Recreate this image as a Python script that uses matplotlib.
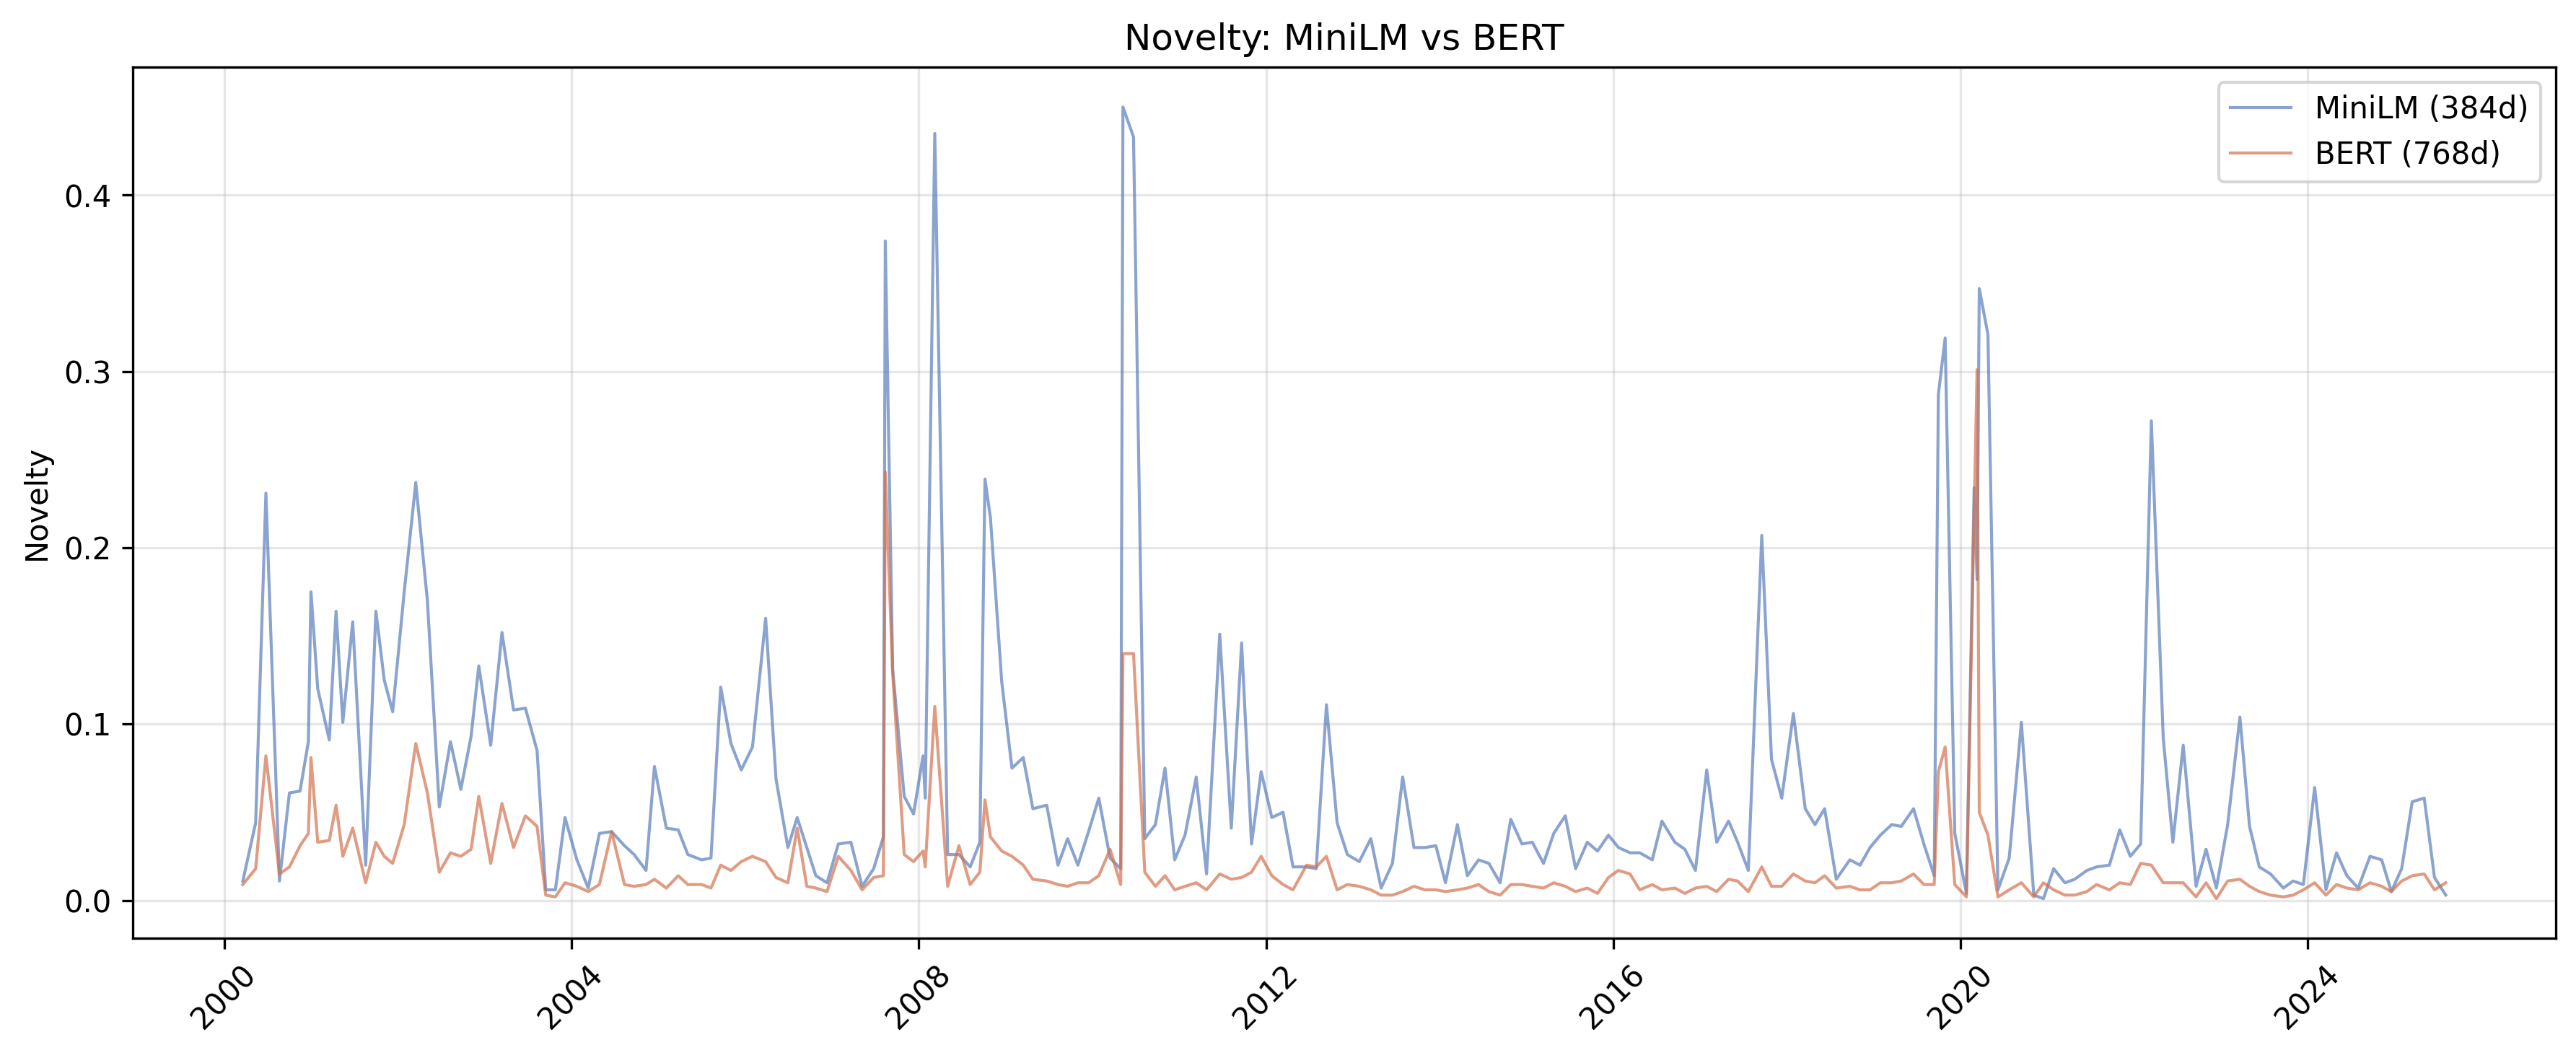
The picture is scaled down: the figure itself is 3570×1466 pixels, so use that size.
import matplotlib
matplotlib.use("Agg")
import matplotlib.pyplot as plt
import numpy as np
import pandas as pd

# decimal year of each period
years = [
    2000.215, 2000.363, 2000.481, 2000.637, 2000.752, 2000.874, 2000.970, 2001.000,
    2001.078, 2001.211, 2001.289, 2001.367, 2001.481, 2001.630, 2001.748, 2001.844,
    2001.941, 2002.074, 2002.207, 2002.341, 2002.478, 2002.607, 2002.726, 2002.844,
    2002.933, 2003.070, 2003.200, 2003.333, 2003.470, 2003.604, 2003.704, 2003.815,
    2003.926, 2004.063, 2004.193, 2004.322, 2004.463,
    2004.611, 2004.722, 2004.859, 2004.956, 2005.093, 2005.230, 2005.341, 2005.500,
    2005.607, 2005.719, 2005.837, 2005.956, 2006.085, 2006.237, 2006.356, 2006.493,
    2006.600, 2006.711, 2006.815, 2006.944, 2007.074, 2007.219, 2007.348, 2007.481,
    2007.593, 2007.615, 2007.700, 2007.833, 2007.940, 2008.050, 2008.075, 2008.185,
    2008.333, 2008.463, 2008.593, 2008.704, 2008.763, 2008.826, 2008.956, 2009.074,
    2009.204, 2009.315, 2009.474, 2009.604, 2009.715, 2009.833,
    2009.956, 2010.074, 2010.204, 2010.326, 2010.352, 2010.474, 2010.604, 2010.726,
    2010.837, 2010.948, 2011.067, 2011.196, 2011.315, 2011.467, 2011.600, 2011.719,
    2011.833, 2011.944, 2012.067, 2012.196, 2012.311, 2012.467, 2012.578, 2012.696,
    2012.819, 2012.937, 2013.074, 2013.207, 2013.326, 2013.456, 2013.574, 2013.704,
    2013.830, 2013.956, 2014.067, 2014.204, 2014.319, 2014.448, 2014.567, 2014.696,
    2014.819, 2014.948, 2015.067, 2015.196,
    2015.314, 2015.447, 2015.566, 2015.700, 2015.818, 2015.944, 2016.059, 2016.193,
    2016.304, 2016.449, 2016.560, 2016.709, 2016.824, 2016.946, 2017.076, 2017.191,
    2017.328, 2017.432, 2017.555, 2017.710, 2017.822, 2017.940, 2018.074, 2018.211,
    2018.323, 2018.434, 2018.568, 2018.724, 2018.842, 2018.957, 2019.076, 2019.206,
    2019.317, 2019.458, 2019.577, 2019.696, 2019.744, 2019.822, 2019.933, 2020.067,
    2020.156, 2020.190, 2020.215, 2020.315, 2020.430, 2020.560, 2020.700,
    2020.843, 2020.954, 2021.072, 2021.202, 2021.314, 2021.455, 2021.566, 2021.714,
    2021.833, 2021.955, 2022.074, 2022.197, 2022.334, 2022.445, 2022.564, 2022.712,
    2022.827, 2022.946, 2023.076, 2023.217, 2023.328, 2023.440, 2023.570, 2023.718,
    2023.829, 2023.948, 2024.078, 2024.208, 2024.330, 2024.449, 2024.579, 2024.716,
    2024.850, 2024.961, 2025.080, 2025.202, 2025.340, 2025.458, 2025.588,
]

minilm = [
    0.011, 0.044, 0.231, 0.011, 0.061, 0.062, 0.090, 0.175,
    0.120, 0.091, 0.164, 0.101, 0.158, 0.020, 0.164, 0.125,
    0.107, 0.175, 0.237, 0.170, 0.053, 0.090, 0.063, 0.093,
    0.133, 0.088, 0.152, 0.108, 0.109, 0.085, 0.006, 0.006,
    0.047, 0.023, 0.007, 0.038, 0.039,
    0.031, 0.026, 0.017, 0.076, 0.041, 0.040, 0.026, 0.023,
    0.024, 0.121, 0.089, 0.074, 0.087, 0.160, 0.069, 0.030,
    0.047, 0.030, 0.014, 0.010, 0.032, 0.033, 0.008, 0.018,
    0.036, 0.374, 0.131, 0.059, 0.049, 0.082, 0.058, 0.435,
    0.026, 0.026, 0.019, 0.033, 0.239, 0.217, 0.124, 0.075,
    0.081, 0.052, 0.054, 0.020, 0.035, 0.020,
    0.039, 0.058, 0.024, 0.018, 0.450, 0.433, 0.035, 0.043,
    0.075, 0.023, 0.037, 0.070, 0.015, 0.151, 0.041, 0.146,
    0.032, 0.073, 0.047, 0.050, 0.019, 0.019, 0.018, 0.111,
    0.044, 0.026, 0.022, 0.035, 0.007, 0.021, 0.070, 0.030,
    0.030, 0.031, 0.010, 0.043, 0.014, 0.023, 0.021, 0.010,
    0.046, 0.032, 0.033, 0.021,
    0.038, 0.048, 0.018, 0.033, 0.028, 0.037, 0.030, 0.027,
    0.027, 0.023, 0.045, 0.033, 0.029, 0.017, 0.074, 0.033,
    0.045, 0.033, 0.017, 0.207, 0.080, 0.058, 0.106, 0.052,
    0.043, 0.052, 0.012, 0.023, 0.020, 0.030, 0.037, 0.043,
    0.042, 0.052, 0.032, 0.014, 0.287, 0.319, 0.038, 0.004,
    0.234, 0.182, 0.347, 0.321, 0.006, 0.024, 0.101,
    0.003, 0.001, 0.018, 0.010, 0.012, 0.017, 0.019, 0.020,
    0.040, 0.025, 0.032, 0.272, 0.092, 0.033, 0.088, 0.008,
    0.029, 0.007, 0.043, 0.104, 0.042, 0.019, 0.015, 0.007,
    0.011, 0.009, 0.064, 0.006, 0.027, 0.014, 0.007, 0.025,
    0.023, 0.005, 0.018, 0.056, 0.058, 0.013, 0.003,
]

bert = [
    0.009, 0.018, 0.082, 0.015, 0.019, 0.031, 0.038, 0.081,
    0.033, 0.034, 0.054, 0.025, 0.041, 0.010, 0.033, 0.025,
    0.021, 0.043, 0.089, 0.061, 0.016, 0.027, 0.025, 0.029,
    0.059, 0.021, 0.055, 0.030, 0.048, 0.042, 0.003, 0.002,
    0.010, 0.008, 0.005, 0.009, 0.039,
    0.009, 0.008, 0.009, 0.012, 0.007, 0.014, 0.009, 0.009,
    0.007, 0.020, 0.017, 0.022, 0.025, 0.022, 0.013, 0.010,
    0.041, 0.008, 0.007, 0.005, 0.025, 0.017, 0.006, 0.013,
    0.014, 0.243, 0.129, 0.026, 0.022, 0.028, 0.019, 0.110,
    0.008, 0.031, 0.009, 0.016, 0.057, 0.036, 0.028, 0.025,
    0.020, 0.012, 0.011, 0.009, 0.008, 0.010,
    0.010, 0.014, 0.029, 0.009, 0.140, 0.140, 0.016, 0.008,
    0.014, 0.006, 0.008, 0.010, 0.006, 0.015, 0.012, 0.013,
    0.016, 0.025, 0.014, 0.009, 0.006, 0.020, 0.019, 0.025,
    0.006, 0.009, 0.008, 0.006, 0.003, 0.003, 0.005, 0.008,
    0.006, 0.006, 0.005, 0.006, 0.007, 0.009, 0.005, 0.003,
    0.009, 0.009, 0.008, 0.007,
    0.010, 0.008, 0.005, 0.007, 0.004, 0.013, 0.017, 0.015,
    0.006, 0.009, 0.006, 0.007, 0.004, 0.007, 0.008, 0.005,
    0.012, 0.011, 0.005, 0.019, 0.008, 0.008, 0.015, 0.011,
    0.010, 0.014, 0.007, 0.008, 0.006, 0.006, 0.010, 0.010,
    0.011, 0.015, 0.009, 0.009, 0.073, 0.087, 0.009, 0.002,
    0.220, 0.301, 0.050, 0.037, 0.002, 0.006, 0.010,
    0.002, 0.010, 0.006, 0.003, 0.003, 0.005, 0.009, 0.006,
    0.010, 0.009, 0.021, 0.020, 0.010, 0.010, 0.010, 0.002,
    0.010, 0.001, 0.011, 0.012, 0.008, 0.005, 0.003, 0.002,
    0.003, 0.006, 0.010, 0.003, 0.009, 0.007, 0.006, 0.010,
    0.008, 0.005, 0.011, 0.014, 0.015, 0.006, 0.010,
]

dates = pd.to_datetime("2000-01-01") + pd.to_timedelta((np.array(years) - 2000) * 365.25, unit="D")

fig = plt.figure(figsize=(11.9, 4.887), dpi=300)
ax = fig.add_subplot(111)
fig.subplots_adjust(left=0.0515, right=0.9922, top=0.9362, bottom=0.1132)

ax.plot(dates, minilm, color="#587dbb", alpha=0.7, linewidth=1.0, label="MiniLM (384d)")
ax.plot(dates, bert, color="#d4714e", alpha=0.7, linewidth=1.0, label="BERT (768d)")

ax.set_title("Novelty: MiniLM vs BERT")
ax.set_ylabel("Novelty")
ax.grid(True, alpha=0.3)
ax.legend(loc="upper right")
plt.setp(ax.get_xticklabels(), rotation=45)

fig.savefig("out.png", dpi=300)
